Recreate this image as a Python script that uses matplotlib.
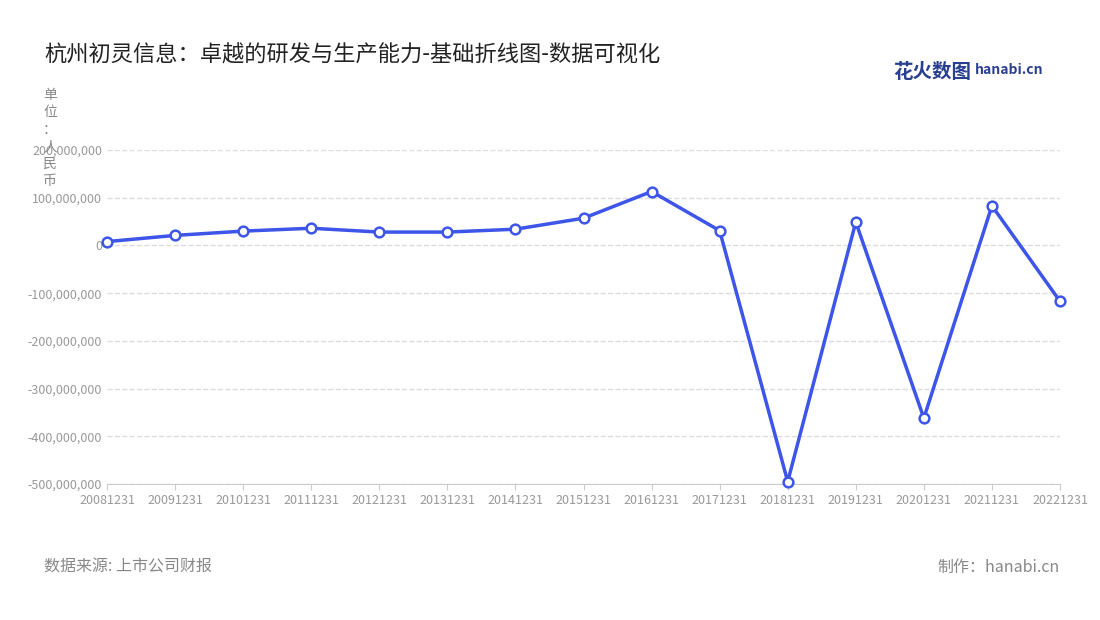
import matplotlib.pyplot as plt
from matplotlib.ticker import FuncFormatter

plt.rcParams['font.family'] = ['Noto Sans CJK SC', 'DejaVu Sans']

# 数据
years = ['20081231', '20091231', '20101231', '20111231', '20121231', '20131231', '20141231', '20151231',
         '20161231', '20171231', '20181231', '20191231', '20201231', '20211231', '20221231']
values = [8e6, 21e6, 30e6, 36e6, 28e6, 28e6, 34e6, 57e6,
          113e6, 31e6, -495e6, 49e6, -362e6, 83e6, -117e6]

fig = plt.figure(figsize=(11, 6.2), dpi=100)
ax = fig.add_axes([107/1100, 1-484/620, (1060-107)/1100, (484-150)/620])

x = range(len(years))
ax.plot(x, values, color='#3d55e8', lw=2.5, marker='o', ms=7, clip_on=False,
        markerfacecolor='white', markeredgecolor='#3d55e8', markeredgewidth=1.8, zorder=3)

ax.set_xlim(0, len(years)-1)
ax.set_ylim(-500e6, 200e6)
ax.set_yticks(range(-500000000, 200000001, 100000000))
ax.yaxis.set_major_formatter(FuncFormatter(lambda v, p: f'{int(v):,}'))
ax.set_xticks(list(x))
ax.set_xticklabels(years)
ax.tick_params(axis='both', labelsize=9, colors='#999999', length=0)
ax.tick_params(axis='x', length=4, color='#cccccc')
ax.grid(axis='y', ls='--', color='#dddddd', lw=1)
for s in ['top', 'right', 'left']:
    ax.spines[s].set_visible(False)
ax.spines['bottom'].set_color('#cccccc')

fig.text(44/1100, 1-55/620, '杭州初灵信息：卓越的研发与生产能力-基础折线图-数据可视化',
         fontsize=16, color='#222222', va='center')
fig.text(50/1100, 1-88/620, '单\n位\n：\n人\n民\n币', fontsize=10, color='#888888',
         va='top', ha='center', linespacing=1.3)
fig.text(44/1100, 1-567/620, '数据来源: 上市公司财报', fontsize=11.5, color='#888888', va='center')
fig.text(1060/1100, 1-567/620, '制作：hanabi.cn', fontsize=11.5, color='#888888', va='center', ha='right')
fig.text(893/1100, 1-72/620, '花火数图', fontsize=14, color='#2a3f8f', va='center', fontweight='bold')
fig.text(975/1100, 1-70/620, 'hanabi.cn', fontsize=10, color='#2a3f8f', va='center', fontweight='bold')

plt.savefig('out.png')
